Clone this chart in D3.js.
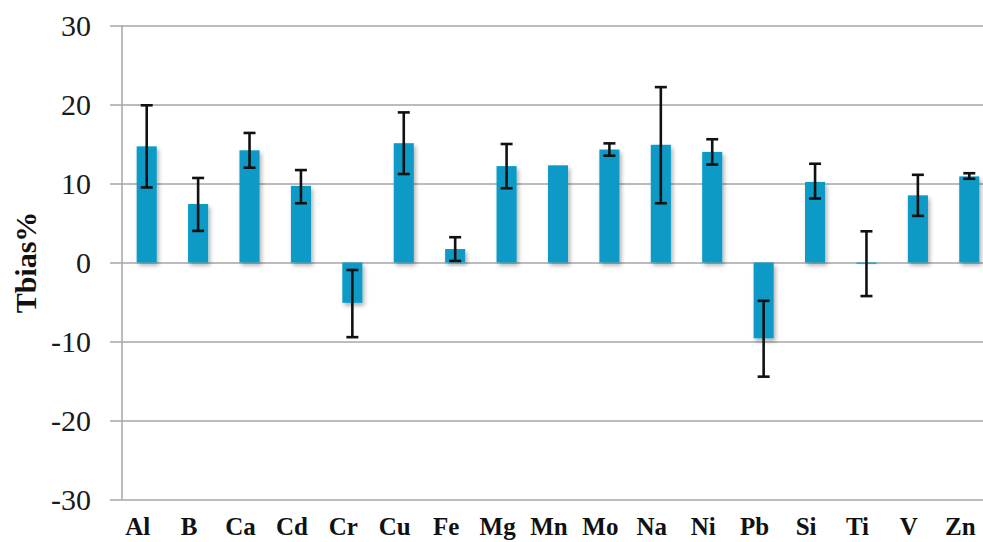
<!DOCTYPE html>
<html>
<head>
<meta charset="utf-8">
<script src="https://cdn.jsdelivr.net/npm/d3@7"></script>
<style>
  html, body { margin: 0; padding: 0; background: #fff; }
  svg { display: block; }
  text { font-family: "Liberation Serif", "Times New Roman", serif; }
</style>
</head>
<body>
<svg id="chart" width="983" height="542"></svg>
<script>
const categories = ["Al","B","Ca","Cd","Cr","Cu","Fe","Mg","Mn","Mo","Na","Ni","Pb","Si","Ti","V","Zn"];
const values     = [14.7, 7.4, 14.2, 9.7, -5.1, 15.1, 1.7, 12.2, 12.3, 14.3, 14.9, 14.0, -9.6, 10.2, -0.15, 8.5, 10.9];
const errors     = [5.2, 3.35, 2.2, 2.1, 4.25, 3.9, 1.5, 2.8, 0, 0.78, 7.35, 1.6, 4.8, 2.2, 4.1, 2.6, 0.35];
const errCenters = [14.7, 7.35, 14.2, 9.6, -5.2, 15.1, 1.7, 12.2, 12.3, 14.3, 14.85, 14.0, -9.65, 10.3, -0.15, 8.5, 10.95];
const yTicks     = [-30, -20, -10, 0, 10, 20, 30];
const yTitle     = "Tbias%";

const svg = d3.select("#chart");

const x = d3.scaleBand().domain(categories).range([121, 995]).paddingInner(0.61).paddingOuter(0.305);
const y = d3.scaleLinear().domain([-30, 30]).range([499.5, 25.5]);

const defs = svg.append("defs");
const f = defs.append("filter").attr("id", "shadow").attr("x", "-30%").attr("y", "-30%").attr("width", "160%").attr("height", "160%");
f.append("feDropShadow").attr("dx", 2).attr("dy", 3).attr("stdDeviation", 2).attr("flood-color", "#000").attr("flood-opacity", 0.3);

// Y axis with gridlines
const yAxis = d3.axisLeft(y).tickValues(yTicks).tickFormat(d => String(d)).tickSize(-(995 - 122)).tickPadding(31);
const gy = svg.append("g").attr("transform", "translate(122,0)").call(yAxis);
gy.select(".domain").remove();
gy.selectAll(".tick line").attr("x1", -12).attr("stroke", "#a6a6a6").attr("stroke-width", 1.5);
gy.selectAll(".tick text")
  .attr("font-family", "'Liberation Serif', 'Times New Roman', serif")
  .attr("font-size", 30).attr("fill", "#1a1a1a");

// vertical axis line
svg.append("line")
  .attr("x1", 122).attr("x2", 122).attr("y1", y(30)).attr("y2", y(-30))
  .attr("stroke", "#a6a6a6").attr("stroke-width", 1.5);

// Bars
svg.append("g").selectAll("rect").data(categories).join("rect")
  .attr("x", d => x(d))
  .attr("width", x.bandwidth())
  .attr("y", (d, i) => y(Math.max(0, values[i])))
  .attr("height", (d, i) => Math.abs(y(values[i]) - y(0)))
  .attr("fill", "#079ac6")
  .attr("filter", "url(#shadow)");

// Error bars
const eg = svg.append("g").attr("stroke", "#111").attr("stroke-width", 2.6).attr("fill", "none");
categories.forEach((c, i) => {
  if (!errors[i]) return;
  const cx = x(c) + x.bandwidth() / 2;
  const top = y(errCenters[i] + errors[i]);
  const bot = y(errCenters[i] - errors[i]);
  eg.append("line").attr("x1", cx).attr("x2", cx).attr("y1", top).attr("y2", bot);
  eg.append("line").attr("x1", cx - 6).attr("x2", cx + 6).attr("y1", top).attr("y2", top);
  eg.append("line").attr("x1", cx - 6).attr("x2", cx + 6).attr("y1", bot).attr("y2", bot);
});

// X axis labels
const xAxis = d3.axisBottom(x).tickSize(0).tickPadding(18);
const gx = svg.append("g").attr("transform", `translate(0,${y(-30)})`).call(xAxis);
gx.select(".domain").remove();
gx.selectAll(".tick text")
  .attr("dx", -9)
  .attr("font-family", "'Liberation Serif', 'Times New Roman', serif")
  .attr("font-size", 25).attr("font-weight", "bold").attr("fill", "#111");

// Y title
svg.append("text")
  .attr("transform", `translate(25,${y(0)}) rotate(-90)`)
  .attr("text-anchor", "middle")
  .attr("dominant-baseline", "central")
  .attr("font-family", "'Liberation Serif', 'Times New Roman', serif")
  .attr("font-size", 30).attr("font-weight", "bold").attr("fill", "#111")
  .text(yTitle);
</script>
</body>
</html>
